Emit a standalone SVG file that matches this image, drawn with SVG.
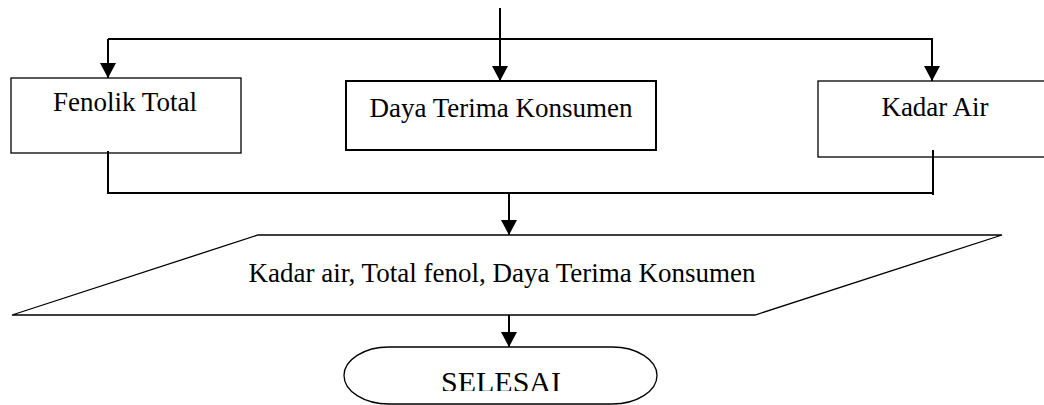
<svg xmlns="http://www.w3.org/2000/svg" width="1044" height="405" viewBox="0 0 1044 405">
<style>
.box{fill:#fff;stroke:#000;stroke-width:1.3}
.thick{stroke-width:2}
.con{fill:none;stroke:#000;stroke-width:2}
text{font-family:"Liberation Serif","Times New Roman",serif;font-size:27px;fill:#000;text-anchor:middle}
</style>
<defs>
<marker id="ah" markerUnits="userSpaceOnUse" markerWidth="16" markerHeight="16" refX="15" refY="8" orient="auto" viewBox="0 0 16 16">
<path d="M0,0 L15,8 L0,16 z" fill="#000"/>
</marker>
<clipPath id="clipSel"><rect x="0" y="0" width="1044" height="391"/></clipPath>
</defs>
<g id="n-fenolik">
<rect class="box" x="11" y="78" width="230" height="75"/>
<text x="125" y="111">Fenolik Total</text>
</g>
<g id="n-daya">
<rect class="box thick" x="346" y="81" width="310" height="69"/>
<text x="501" y="117">Daya Terima Konsumen</text>
</g>
<g id="n-kadar">
<rect class="box" x="818" y="81" width="240" height="76"/>
<text x="935" y="116">Kadar Air</text>
</g>
<g id="n-output">
<polygon class="box" points="258,235 1002,235 755,315 12,315"/>
<text x="502" y="282">Kadar air, Total fenol, Daya Terima Konsumen</text>
</g>
<g id="n-selesai">
<rect class="box" x="344" y="347" width="313" height="57" rx="45" ry="28.5"/>
<text x="501" y="392" clip-path="url(#clipSel)" style="font-size:30px">SELESAI</text>
</g>
<g id="connectors">
<path class="con" d="M500,8 V39"/>
<path class="con" d="M108,39 H933"/>
<path class="con" d="M108,39 V78" marker-end="url(#ah)"/>
<path class="con" d="M500,39 V81" marker-end="url(#ah)"/>
<path class="con" d="M932,39 V81" marker-end="url(#ah)"/>
<path class="con" d="M108,151 V194 M107,193 H934 M933,150 V195"/>
<path class="con" d="M509,193 V235" marker-end="url(#ah)"/>
<path class="con" d="M509,315 V347" marker-end="url(#ah)"/>
</g>
</svg>
